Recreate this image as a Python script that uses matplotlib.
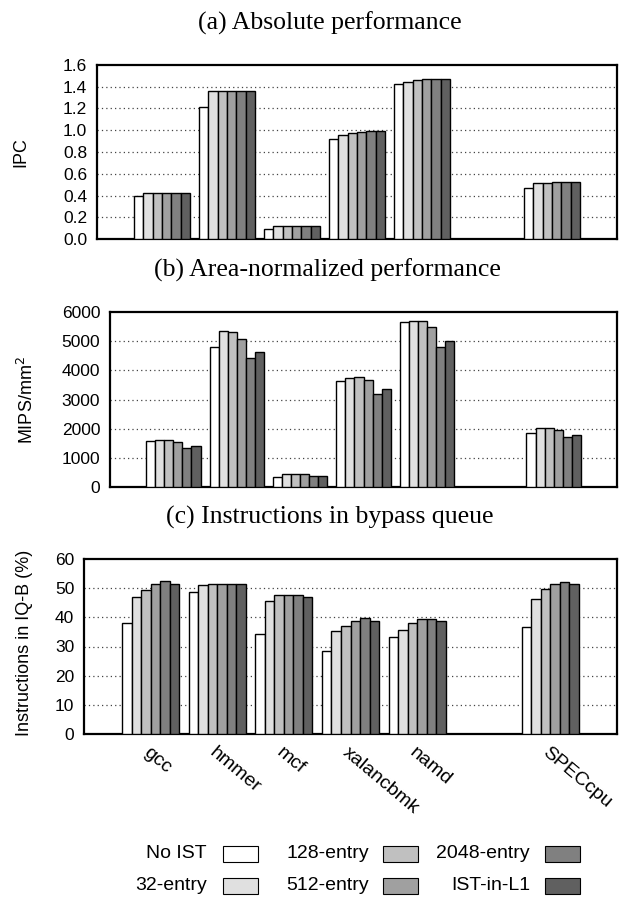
import matplotlib
matplotlib.use('Agg')
import matplotlib.pyplot as plt
import matplotlib.transforms as mtrans
from matplotlib.patches import Rectangle
import numpy as np

benchmarks = ['gcc', 'hmmer', 'mcf', 'xalancbmk', 'namd', '', 'SPECcpu']
configs = ['No IST', '32-entry', '128-entry', '512-entry', '2048-entry', 'IST-in-L1']
colors = ['#ffffff', '#e0e0e0', '#c0c0c0', '#a0a0a0', '#808080', '#606060']

# one row per benchmark, one column per config (empty slot -> zeros)
ipc = [[0.40, 0.42, 0.42, 0.42, 0.42, 0.42],
       [1.21, 1.365, 1.365, 1.365, 1.365, 1.365],
       [0.09, 0.116, 0.116, 0.116, 0.116, 0.116],
       [0.916, 0.953, 0.971, 0.986, 0.992, 0.992],
       [1.429, 1.447, 1.466, 1.475, 1.475, 1.475],
       [0, 0, 0, 0, 0, 0],
       [0.47, 0.513, 0.519, 0.522, 0.522, 0.522]]

mips = [[1580, 1626, 1626, 1557, 1351, 1420],
        [4786, 5347, 5302, 5061, 4420, 4626],
        [355, 458, 458, 435, 389, 389],
        [3618, 3721, 3756, 3653, 3195, 3344],
        [5656, 5679, 5679, 5473, 4786, 4992],
        [0, 0, 0, 0, 0, 0],
        [1855, 2027, 2015, 1947, 1706, 1775]]

iqb = [[37.9, 46.9, 49.5, 51.5, 52.6, 51.3],
       [48.6, 51.1, 51.3, 51.3, 51.3, 51.3],
       [34.2, 45.7, 47.5, 47.5, 47.5, 46.9],
       [28.3, 35.2, 36.9, 38.6, 39.7, 38.9],
       [33.3, 35.8, 37.9, 39.3, 39.6, 38.9],
       [0, 0, 0, 0, 0, 0],
       [36.6, 46.4, 49.6, 51.4, 52.0, 51.6]]

plt.rcParams['font.family'] = ['Liberation Sans', 'DejaVu Sans']
plt.rcParams['font.size'] = 12.5

fig = plt.figure(figsize=(6.23, 8.99), dpi=100)
W, H = 623.0, 899.0

def make_ax(l, r, top, bot):
    return fig.add_axes([l / W, 1 - bot / H, (r - l) / W, (bot - top) / H])

ax1 = make_ax(97, 617, 65, 239)
ax2 = make_ax(110, 617, 312, 487)
ax3 = make_ax(84, 617, 559, 734)

x = np.arange(len(benchmarks))
bw = 1.0 / 7

def draw(ax, data, ymax, step, fmt):
    data = np.array(data)
    for j in range(len(configs)):
        ax.bar(x + (j - 2.5) * bw, data[:, j], bw, color=colors[j],
               edgecolor='black', linewidth=1.0, zorder=3)
    ax.set_ylim(0, ymax)
    ax.set_xlim(-1, 7)
    ticks = np.arange(0, ymax + step / 2, step)
    ax.set_yticks(ticks)
    ax.set_yticklabels([fmt % t for t in ticks])
    for t in ticks[1:-1]:
        ax.axhline(t, color='#444444', linestyle=(0, (1, 2.5)), linewidth=0.9, zorder=1)
    for s in ax.spines.values():
        s.set_linewidth(1.6)
    ax.tick_params(axis='y', length=0, pad=7, labelsize=12.5)
    ax.tick_params(axis='x', length=0)

draw(ax1, ipc, 1.6, 0.2, '%.1f')
draw(ax2, mips, 6000, 1000, '%d')
draw(ax3, iqb, 60, 10, '%d')

ax1.set_xticks([])
ax2.set_xticks([])
ax3.set_xticks(x)
ax3.set_xticklabels(benchmarks, rotation=-40, ha='left', va='top',
                    rotation_mode='anchor', fontsize=14)
off = mtrans.ScaledTranslation(-7 / 100.0, 0, fig.dpi_scale_trans)
for lab in ax3.get_xticklabels():
    lab.set_transform(lab.get_transform() + off)
ax3.tick_params(axis='x', pad=7)

# panel titles
tfont = dict(family=['Liberation Serif', 'DejaVu Serif'], fontsize=18.5, ha='center', va='baseline')
fig.text(330 / W, 1 - 30 / H, '(a) Absolute performance', **tfont)
fig.text(327 / W, 1 - 277 / H, '(b) Area-normalized performance', **tfont)
fig.text(330 / W, 1 - 524 / H, '(c) Instructions in bypass queue', **tfont)

# y labels
fig.text(21 / W, 1 - 152 / H, 'IPC', rotation=90, ha='center', va='center', fontsize=13)
fig.text(27 / W, 1 - 400 / H, 'MIPS/mm$^2$', rotation=90, ha='center', va='center', fontsize=13)
fig.text(25 / W, 1 - 643 / H, 'Instructions in IQ-B (%)', rotation=90, ha='center', va='center', fontsize=13)

# legend: label right-aligned, then box
text_right = [207, 369, 530]
box_left = [223, 383, 545]
row_y = [854, 886]
for k, (lab, c) in enumerate(zip(configs, colors)):
    col, row = k // 2, k % 2
    fig.text(text_right[col] / W, 1 - row_y[row] / H, lab, ha='right', va='center',
             fontsize=14)
    fig.patches.append(Rectangle((box_left[col] / W, 1 - (row_y[row] + 8) / H), 35 / W, 16 / H,
                                 transform=fig.transFigure, facecolor=c,
                                 edgecolor='black', linewidth=0.8))

fig.savefig('out.png', dpi=100)
